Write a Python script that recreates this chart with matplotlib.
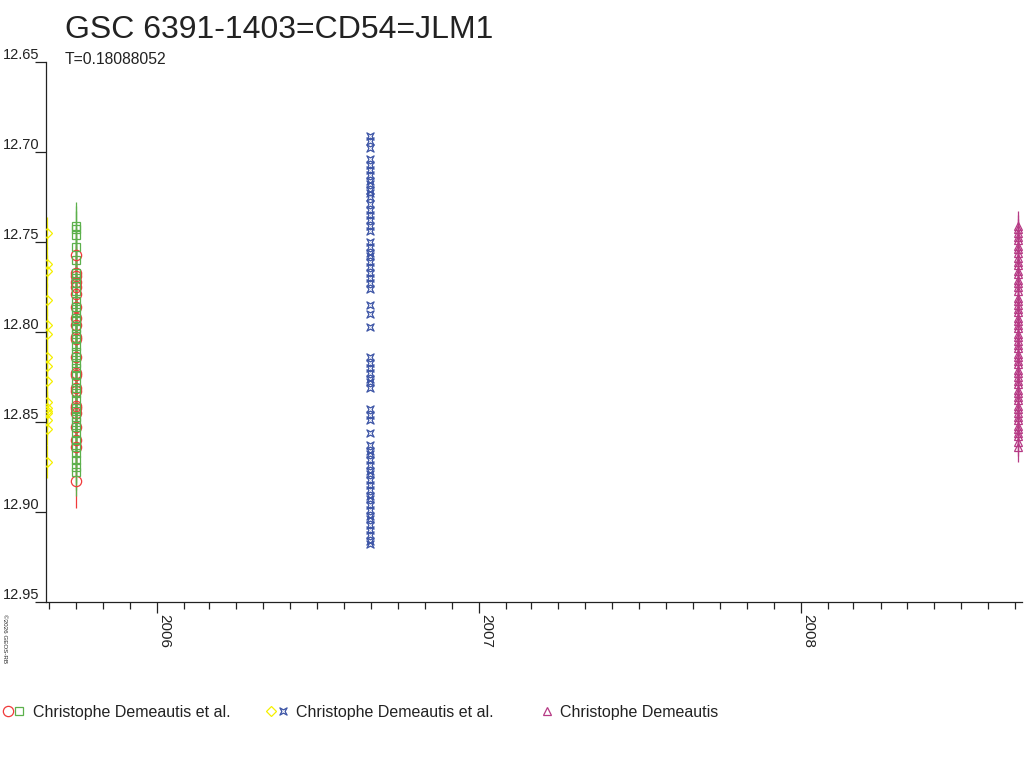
import numpy as np
import matplotlib
matplotlib.use("Agg")
import matplotlib.pyplot as plt
from matplotlib.path import Path
from matplotlib.legend_handler import HandlerTuple
from matplotlib.lines import Line2D

plt.rcParams['font.family'] = ['Liberation Sans', 'DejaVu Sans']

# Datos (año decimal, magnitud)
titulo = "GSC 6391-1403=CD54=JLM1"
periodo = "T=0.18088052"
observador_a = "Christophe Demeautis et al."
observador_b = "Christophe Demeautis et al."
observador_c = "Christophe Demeautis"

fecha_amarillo = 2005.657
mag_amarillo = [12.745, 12.762, 12.766, 12.782, 12.796, 12.801, 12.814, 12.819,
                12.827, 12.839, 12.842, 12.844, 12.845, 12.849, 12.854, 12.872]
err_amarillo = 0.009

fecha_rojo = 2005.748
mag_rojo = [12.757, 12.767, 12.769, 12.772, 12.775, 12.779, 12.786, 12.792,
            12.796, 12.803, 12.804, 12.814, 12.823, 12.824, 12.831, 12.833,
            12.841, 12.842, 12.845, 12.853, 12.860, 12.864, 12.883]
err_rojo = 0.015

fecha_verde = 2005.749
mag_verde = [12.741, 12.743, 12.746, 12.753, 12.760, 12.767, 12.770, 12.773,
             12.777, 12.783, 12.786, 12.789, 12.792, 12.794, 12.798, 12.801,
             12.804, 12.808, 12.811, 12.814, 12.817, 12.820, 12.824, 12.828,
             12.831, 12.834, 12.838, 12.842, 12.844, 12.847, 12.850, 12.853,
             12.856, 12.860, 12.864, 12.867, 12.871, 12.875, 12.878]
err_verde = 0.013

fecha_azul = 2006.661
mag_azul = [12.691, 12.694, 12.698, 12.704, 12.707, 12.710, 12.713, 12.716,
            12.718, 12.721, 12.723, 12.725, 12.729, 12.732, 12.735, 12.738,
            12.741, 12.744, 12.750, 12.753, 12.756, 12.758, 12.761, 12.764,
            12.767, 12.770, 12.773, 12.776, 12.785, 12.790, 12.797, 12.814,
            12.817, 12.820, 12.823, 12.826, 12.828, 12.831, 12.843, 12.846,
            12.849, 12.856, 12.863, 12.866, 12.868, 12.871, 12.874, 12.877,
            12.879, 12.882, 12.885, 12.888, 12.891, 12.893, 12.896, 12.899,
            12.902, 12.904, 12.907, 12.910, 12.913, 12.916, 12.918]

fecha_magenta = 2008.674
mag_magenta = [12.741, 12.743, 12.745, 12.747, 12.749, 12.752, 12.754, 12.756,
               12.759, 12.761, 12.763, 12.766, 12.768, 12.771, 12.773, 12.775,
               12.777, 12.781, 12.783, 12.785, 12.787, 12.789, 12.792, 12.794,
               12.796, 12.798, 12.801, 12.803, 12.805, 12.807, 12.809, 12.812,
               12.814, 12.816, 12.818, 12.821, 12.823, 12.825, 12.827, 12.829,
               12.832, 12.834, 12.836, 12.838, 12.841, 12.843, 12.845, 12.847,
               12.849, 12.852, 12.854, 12.856, 12.858, 12.861, 12.864]
err_magenta = 0.008

anios = [2006, 2007, 2008]
ticks_mag = [12.65, 12.70, 12.75, 12.80, 12.85, 12.90, 12.95]

c_texto = '#222222'
c_amarillo = '#f5f000'
c_rojo = '#f03a3a'
c_verde = '#5cb04c'
c_azul = '#3d55a6'
c_magenta = '#b63a85'

# Marcador de estrella de cuatro puntas
estrella = Path([(-1, -1), (0, -0.45), (1, -1), (0.45, 0), (1, 1), (0, 0.45),
                 (-1, 1), (-0.45, 0), (-1, -1)],
                [Path.MOVETO] + [Path.LINETO] * 7 + [Path.CLOSEPOLY])

fig = plt.figure(figsize=(10.24, 7.68), dpi=100)
ax = fig.add_axes([46 / 1024, 166 / 768, 976 / 1024, 540 / 768])

def serie(x, mags, err, color, marcador, ms):
    xs = [x] * len(mags)
    if err:
        ax.errorbar(xs, mags, yerr=err, fmt='none', ecolor=color, elinewidth=0.9,
                    capsize=0, zorder=2)
    ax.plot(xs, mags, linestyle='none', marker=marcador, ms=ms, mfc='none',
            mec=color, mew=0.9, zorder=3)

serie(fecha_amarillo, mag_amarillo, err_amarillo, c_amarillo, 'D', 4.8)
serie(fecha_rojo, mag_rojo, err_rojo, c_rojo, 'o', 7.4)
serie(fecha_verde, mag_verde, err_verde, c_verde, 's', 5.8)
serie(fecha_azul, mag_azul, None, c_azul, estrella, 5.2)
serie(fecha_magenta, mag_magenta, err_magenta, c_magenta, '^', 6.0)

ax.set_xlim(2005.655, 2008.686)
ax.set_ylim(12.95, 12.65)

# Ejes
for lado in ['top', 'right']:
    ax.spines[lado].set_visible(False)
for lado in ['left', 'bottom']:
    ax.spines[lado].set_color(c_texto)
    ax.spines[lado].set_linewidth(0.9)

ax.set_yticks(ticks_mag)
ax.set_yticklabels(['%.2f' % v for v in ticks_mag], va='bottom')
ax.tick_params(axis='y', direction='out', length=8, width=0.9, pad=-3.5,
               labelsize=10.5, colors=c_texto)

meses = []
for a in [2005, 2006, 2007, 2008]:
    dias = np.cumsum([0, 31, 28, 31, 30, 31, 30, 31, 31, 30, 31, 30])
    for d in dias:
        meses.append(a + d / 365.0)
ax.set_xticks(anios)
ax.set_xticklabels([str(a) for a in anios], rotation=270, ha='left', va='top')
ax.set_xticks([m for m in meses if 2005.655 < m < 2008.686], minor=True)
ax.tick_params(axis='x', which='major', direction='out', length=8, width=0.9,
               pad=1, labelsize=11, colors=c_texto)
ax.tick_params(axis='x', which='minor', direction='out', length=5, width=0.9,
               colors=c_texto)

# Textos
fig.text(65 / 1024, 1 - 30 / 768, titulo, fontsize=23, color=c_texto, va='center')
fig.text(65 / 1024, 1 - 59 / 768, periodo, fontsize=11.3, color=c_texto, va='center')
fig.text(2 / 1024, 1 - 614 / 768, '©2026 GEOS-RB', fontsize=4.5, rotation=270,
         ha='left', va='top', color=c_texto)

# Leyendas
def marca(color, marcador, ms):
    return Line2D([], [], linestyle='none', marker=marcador, ms=ms, mfc='none',
                  mec=color, mew=0.9)

ley_y = 1 - 712 / 768
leyendas = [
    ((marca(c_rojo, 'o', 7.4), marca(c_verde, 's', 5.8)), observador_a, 3, 1.35, 0.5),
    ((marca(c_amarillo, 'D', 4.8), marca(c_azul, estrella, 5.2)), observador_b, 265, 1.5, 0.45),
    ((marca(c_magenta, '^', 6.0),), observador_c, 540.5, 0.85, 0.4),
]
for handles, texto, x0, hl, tp in leyendas:
    fig.legend([handles], [texto], loc='center left', bbox_to_anchor=(x0 / 1024, ley_y),
               frameon=False, borderpad=0, borderaxespad=0, handlelength=hl,
               handletextpad=tp, fontsize=11.5, labelcolor=c_texto,
               handler_map={tuple: HandlerTuple(ndivide=None, pad=0)})

fig.savefig('out.png', dpi=100)
